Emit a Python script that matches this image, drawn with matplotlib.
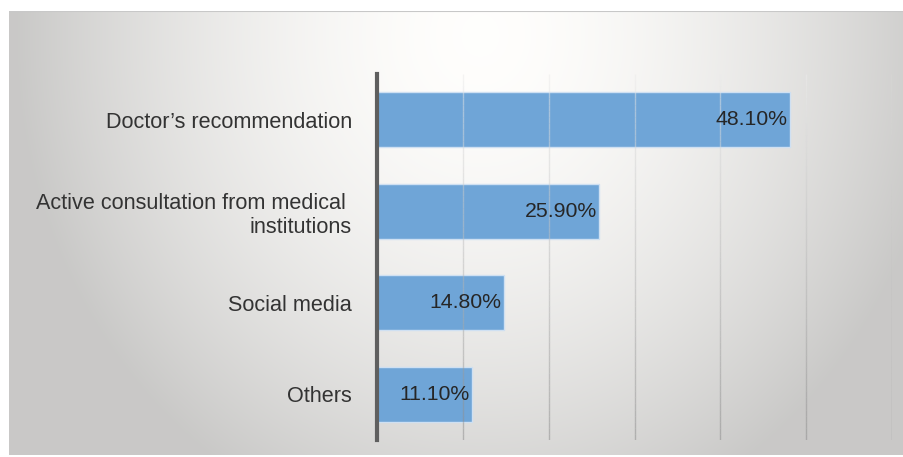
import numpy as np
import matplotlib.pyplot as plt
from matplotlib.collections import LineCollection

# --- DATA ---
categories = ["Doctor\u2019s recommendation",
              "Active consultation from medical \ninstitutions",
              "Social media",
              "Others"]
shares = [48.10, 25.90, 14.80, 11.10]
value_labels = ["48.10%", "25.90%", "14.80%", "11.10%"]
grid_ticks = [10, 20, 30, 40, 50, 60]

W, H = 904, 457
fig = plt.figure(figsize=(W / 100, H / 100), dpi=100)
plt.rcParams['font.family'] = ['Liberation Sans', 'DejaVu Sans']

# --- background panel with a radial grey gradient ---
bg = fig.add_axes([9 / W, 2 / H, (W - 9) / W, 444 / H])
bg.set_axis_off()
px_w, px_h = W - 9, 444
xx, yy = np.meshgrid(np.arange(px_w) + 9, np.arange(px_h) + 11)
dist = np.hypot(xx - 480, (yy - 35) * 0.9)
val = 1 - 0.215 * (dist / 470) ** 1.7
val = np.clip(val, 0.79, 1.0)
img = np.dstack([val, val * 0.997, val * 0.99])
bg.imshow(img, aspect='auto', extent=[0, 1, 0, 1])
bg.set_xlim(0, 1)
bg.set_ylim(0, 1)
bg.axhline(1, color='#c8c8c8', lw=1.5)

# --- main axes ---
ax = fig.add_axes([377 / W, 17 / H, 515 / W, 366 / H])
ax.patch.set_alpha(0)
y = np.arange(len(categories))
ax.barh(y, shares, height=0.6, color='#6fa5d7', edgecolor='#cfe0f2',
        linewidth=1.0, zorder=2)
ax.set_xlim(0, 60)
ax.set_ylim(len(categories) - 0.5, -0.5)

# gridlines with a vertical fade (light at top, grey at bottom)
n = 60
ys = np.linspace(-0.5, len(categories) - 0.5, n + 1)
segs, cols = [], []
for gx in grid_ticks:
    for i in range(n):
        segs.append([(gx, ys[i]), (gx, ys[i + 1])])
        t = i / (n - 1)
        c = 0.92 - 0.38 * t
        cols.append((c, c, c, 0.5))
ax.add_collection(LineCollection(segs, colors=cols, linewidths=1.0, zorder=3))

for yi, v, lab in zip(y, shares, value_labels):
    ax.text(v - 0.3, yi, lab, ha='right', va='center', fontsize=15.3,
            color='#262626', zorder=4)

ax.set_yticks(y)
ax.set_yticklabels(categories, fontsize=15.6, color='#333333',
                   linespacing=1.2)
ax.tick_params(axis='y', length=0, pad=18)
ax.set_xticks([])
for s in ['top', 'right', 'bottom']:
    ax.spines[s].set_visible(False)
ax.spines['left'].set_color('#5f5f5f')
ax.spines['left'].set_linewidth(3)
ax.spines['left'].set_zorder(5)

fig.savefig('out.png', dpi=100)
